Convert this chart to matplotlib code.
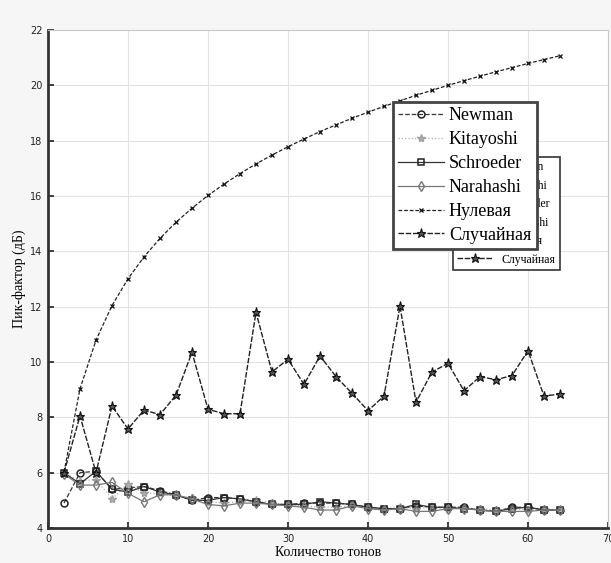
import numpy as np
import matplotlib.pyplot as plt

# количество тонов
n_tones = [2, 4, 6, 8, 10, 12, 14, 16, 18, 20, 22, 24, 26, 28, 30, 32,
           34, 36, 38, 40, 42, 44, 46, 48, 50, 52, 54, 56, 58, 60, 62, 64]

# пик-фактор (дБ)
newman = [4.9, 6.0, 6.05, 5.4, 5.45, 5.5, 5.35, 5.2, 5.0, 5.1, 5.1, 5.05, 4.95, 4.85, 4.85, 4.9,
          4.9, 4.9, 4.85, 4.75, 4.7, 4.7, 4.8, 4.75, 4.75, 4.75, 4.65, 4.6, 4.75, 4.75, 4.65, 4.65]
kitayoshi = [6.0, 5.7, 5.75, 5.05, 5.6, 5.25, 5.25, 5.15, 5.1, 4.95, 4.9, 4.95, 5.0, 4.9, 4.85, 4.8,
             4.75, 4.75, 4.8, 4.75, 4.7, 4.75, 4.7, 4.75, 4.7, 4.7, 4.7, 4.65, 4.7, 4.65, 4.7, 4.65]
schroeder = [6.0, 5.6, 6.05, 5.4, 5.3, 5.5, 5.3, 5.2, 5.0, 5.0, 5.1, 5.05, 4.95, 4.85, 4.85, 4.85,
             4.95, 4.9, 4.85, 4.75, 4.7, 4.7, 4.85, 4.75, 4.75, 4.7, 4.65, 4.6, 4.7, 4.75, 4.65, 4.65]
narahashi = [5.95, 5.55, 5.55, 5.65, 5.25, 4.95, 5.2, 5.2, 5.05, 4.85, 4.8, 4.9, 4.9, 4.85, 4.8, 4.75,
             4.65, 4.65, 4.8, 4.7, 4.65, 4.7, 4.6, 4.6, 4.7, 4.7, 4.65, 4.6, 4.6, 4.6, 4.65, 4.65]
zero_phase = [6.02, 9.03, 10.79, 12.04, 13.01, 13.8, 14.47, 15.05, 15.56, 16.02, 16.43, 16.81,
              17.16, 17.48, 17.78, 18.06, 18.33, 18.57, 18.81, 19.03, 19.24, 19.44, 19.64, 19.82,
              20.0, 20.17, 20.33, 20.49, 20.64, 20.79, 20.93, 21.07]
random_phase = [6.0, 8.05, 6.0, 8.41, 7.58, 8.26, 8.1, 8.8, 10.35, 8.29, 8.13, 8.13, 11.8, 9.64,
                10.1, 9.19, 10.22, 9.47, 8.87, 8.24, 8.77, 12.02, 8.55, 9.64, 9.95, 8.96, 9.47,
                9.36, 9.51, 10.41, 8.77, 8.84]

labels = ["Newman", "Kitayoshi", "Schroeder", "Narahashi", "Нулевая", "Случайная"]

fig = plt.figure(figsize=(6.11, 5.63), dpi=100, facecolor='#f6f6f6')
ax = fig.add_axes([48/611, 35/563, 560/611, 498/563])
ax.set_facecolor('white')

h1, = ax.plot(n_tones, newman, color='#333333', ls='--', lw=0.9, marker='o', ms=5,
              mfc='none', mec='#222222', mew=1.1)
h2, = ax.plot(n_tones, kitayoshi, color='#b0b0b0', ls=':', lw=0.9, marker='*', ms=6,
              mfc='#b0b0b0', mec='#a0a0a0')
h3, = ax.plot(n_tones, schroeder, color='#333333', ls='-', lw=0.9, marker='s', ms=4.5,
              mfc='none', mec='#222222', mew=1.1)
h4, = ax.plot(n_tones, narahashi, color='#777777', ls='-', lw=0.9, marker='d', ms=5.5,
              mfc='none', mec='#777777', mew=1.0)
h5, = ax.plot(n_tones, zero_phase, color='#222222', ls=(0, (3, 1.5)), lw=0.9, marker='x',
              ms=3.5, mew=0.9, mec='#111111')
h6, = ax.plot(n_tones, random_phase, color='#222222', ls=(0, (4, 1.2)), lw=1.0, marker='*',
              ms=6.5, mfc='#555555', mec='#111111', mew=0.8)
handles = [h1, h2, h3, h4, h5, h6]

ax.set_xlim(0, 70)
ax.set_ylim(4, 22)
ax.set_xticks(range(0, 71, 10))
ax.set_yticks(range(4, 23, 2))
ax.grid(True, color='#e2e2e2', lw=0.8)
ax.tick_params(direction='in', length=4, width=1.2, labelsize=7, colors='#222222', pad=4)
for s in ['left', 'bottom']:
    ax.spines[s].set_linewidth(2.0)
    ax.spines[s].set_color('#333333')
for s in ['top', 'right']:
    ax.spines[s].set_linewidth(0.8)
    ax.spines[s].set_color('#c8c8c8')

ax.set_xlabel("Количество тонов", family='Liberation Serif', fontsize=10, labelpad=2)
ax.set_ylabel("Пик-фактор (дБ)", family='Liberation Serif', fontsize=10, labelpad=3)

# сдвинутая копия легенды под основной
back = ax.legend(handles, labels, loc='upper left', bbox_to_anchor=(453/611, 1 - 157/563),
                 bbox_transform=fig.transFigure, borderaxespad=0, fancybox=False,
                 framealpha=1, edgecolor='#333333', prop={'family': 'Liberation Serif', 'size': 8.5},
                 handlelength=3.0, labelspacing=0.55, borderpad=0.35)
back.get_frame().set_linewidth(1.2)
ax.add_artist(back)

leg = ax.legend(handles, labels, loc='upper left', bbox_to_anchor=(393/611, 1 - 102/563),
                bbox_transform=fig.transFigure, borderaxespad=0, fancybox=False,
                framealpha=1, edgecolor='#444444', prop={'family': 'Liberation Serif', 'size': 13},
                handlelength=2.5, labelspacing=0.38, handletextpad=0.3, borderpad=0.3)
leg.get_frame().set_linewidth(2.0)
leg.set_zorder(10)

fig.savefig("out.png", dpi=100, facecolor=fig.get_facecolor())
